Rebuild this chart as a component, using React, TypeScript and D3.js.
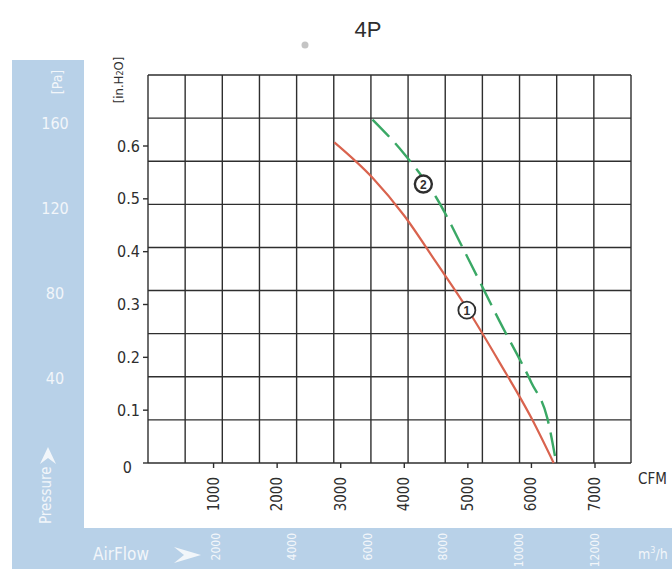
import React from 'react';
import * as d3 from 'd3';

// curve 1 (red, solid) and curve 2 (green, dashed): [CFM, inH2O]
const curve1: [number, number][] = [
  [2900, 0.607], [3500, 0.54], [4000, 0.468], [4500, 0.38],
  [5000, 0.29], [5500, 0.19], [6000, 0.085], [6350, 0],
];
const curve2: [number, number][] = [
  [3500, 0.65], [4000, 0.585], [4500, 0.503], [5000, 0.388],
  [5500, 0.268], [6000, 0.152], [6250, 0.085], [6390, 0],
];
const cfmTicks = [1000, 2000, 3000, 4000, 5000, 6000, 7000];
const inchTicks = [0, 0.1, 0.2, 0.3, 0.4, 0.5, 0.6];
const paTicks = [40, 80, 120, 160];
const m3hTicks = [2000, 4000, 6000, 8000, 10000, 12000];
const gridCols = 13;
const gridRows = 9;

const W = 672;
const H = 569;
const plot = { left: 148, right: 631, top: 75, bottom: 463 };
const band = '#b8d1e8';
const bandText = '#f2f6fa';
const ink = '#2e2e2e';
const font = '"Liberation Sans Narrow", "DejaVu Sans Condensed", "Liberation Sans", sans-serif';

const App: React.FC = () => {
  const x = d3.scaleLinear().domain([0, 7000]).range([150, 595]);
  const y = d3.scaleLinear().domain([0, 0.6]).range([plot.bottom, 146]);
  const yPa = (pa: number) => y(pa / 249.09);
  const xM3h = d3.scaleLinear().domain([2000, 12000]).range([216, 595]);
  const gx = d3.scaleLinear().domain([0, gridCols]).range([plot.left, plot.right]);
  const gy = d3.scaleLinear().domain([0, gridRows]).range([plot.bottom, plot.top]);

  const line = d3.line<[number, number]>()
    .x(d => x(d[0]))
    .y(d => y(d[1]))
    .curve(d3.curveMonotoneX);

  return (
    <svg width={W} height={H} style={{ position: 'absolute', left: 0, top: 0 }} fontFamily={font}>
      <rect width={W} height={H} fill="#fff" />

      {/* blue L-shaped band */}
      <rect x={12} y={60} width={72} height={H - 60} fill={band} />
      <rect x={12} y={528} width={W - 12} height={H - 528} fill={band} />

      <text transform={`translate(57,82) rotate(-90)`} textAnchor="middle" dominantBaseline="central"
        fill={bandText} fontSize={14}>[Pa]</text>
      {paTicks.map(p => (
        <text key={p} x={55} y={yPa(p)} textAnchor="middle" dominantBaseline="central"
          fill={bandText} fontSize={16}>{p}</text>
      ))}
      <path d="M40,464 L48,447 L56,464 L48,458 Z" fill={bandText} />
      <text transform={`translate(46,524) rotate(-90)`} textAnchor="start" dominantBaseline="central"
        fill={bandText} fontSize={15}>Pressure</text>

      <text x={93} y={554} dominantBaseline="central" fill={bandText} fontSize={17}>AirFlow</text>
      <path d="M174,547 L201,555 L174,563 L184,555 Z" fill={bandText} />
      {m3hTicks.map(t => (
        <text key={t} transform={`translate(${xM3h(t)},533) rotate(-90)`} textAnchor="end"
          dominantBaseline="central" fill={bandText} fontSize={12}>{t}</text>
      ))}
      <text x={638} y={554} dominantBaseline="central" fill={bandText} fontSize={14}>
        m<tspan fontSize={9} dy={-4}>3</tspan><tspan dy={4}>/h</tspan>
      </text>

      {/* title and scan blot */}
      <text x={368} y={29} textAnchor="middle" dominantBaseline="central" fill={ink}
        fontSize={22} fontFamily='"Liberation Sans", Arial, sans-serif'>4P</text>
      <circle cx={305} cy={45} r={3.5} fill="#c4c4c4" />

      {/* grid */}
      {d3.range(gridCols + 1).map(i => (
        <line key={'v' + i} x1={gx(i)} x2={gx(i)} y1={plot.top} y2={plot.bottom} stroke={ink} strokeWidth={1.4} />
      ))}
      {d3.range(gridRows + 1).map(i => (
        <line key={'h' + i} x1={plot.left} x2={plot.right} y1={gy(i)} y2={gy(i)} stroke={ink} strokeWidth={1.4} />
      ))}

      {/* y axis */}
      {inchTicks.map(t => (
        <g key={t}>
          <line x1={143} x2={plot.left} y1={y(t)} y2={y(t)} stroke={ink} strokeWidth={1.4} />
          <text x={t === 0 ? 132 : 140} y={t === 0 ? y(t) + 4 : y(t)} textAnchor="end" dominantBaseline="central"
            fill={ink} fontSize={16}>{t === 0 ? '0' : t.toFixed(1)}</text>
        </g>
      ))}
      <text transform={`translate(118,80) rotate(-90)`} textAnchor="middle" dominantBaseline="central"
        fill={ink} fontSize={13}>
        [in.H<tspan fontSize={9} dy={2}>2</tspan><tspan dy={-2}>O]</tspan>
      </text>

      {/* x axis */}
      {cfmTicks.map(t => (
        <g key={t}>
          <line x1={x(t)} x2={x(t)} y1={plot.bottom} y2={plot.bottom + 5} stroke={ink} strokeWidth={1.4} />
          <text transform={`translate(${x(t)},477) rotate(-90)`} textAnchor="end" dominantBaseline="central"
            fill={ink} fontSize={15}>{t}</text>
        </g>
      ))}
      <text x={638} y={479} dominantBaseline="central" fill={ink} fontSize={15}>CFM</text>

      {/* curves */}
      <path d={line(curve1) || ''} fill="none" stroke="#d9634e" strokeWidth={2.2} />
      <path d={line(curve2) || ''} fill="none" stroke="#3aa865" strokeWidth={2.4} strokeDasharray="24 9" />

      {/* curve markers */}
      <circle cx={x(5000) - 1} cy={y(0.295) + 3} r={8.5} fill="#fff" stroke={ink} strokeWidth={1.8} />
      <text x={x(5000) - 1} y={y(0.295) + 3.5} textAnchor="middle" dominantBaseline="central"
        fill={ink} fontSize={12} fontWeight="bold" fontFamily='"Liberation Sans", sans-serif'>1</text>
      <circle cx={x(4300)} cy={y(0.528)} r={8.5} fill="#fff" stroke={ink} strokeWidth={2.4} />
      <text x={x(4300)} y={y(0.528) + 0.5} textAnchor="middle" dominantBaseline="central"
        fill={ink} fontSize={12} fontWeight="bold" fontFamily='"Liberation Sans", sans-serif'>2</text>
    </svg>
  );
};

export default App;
